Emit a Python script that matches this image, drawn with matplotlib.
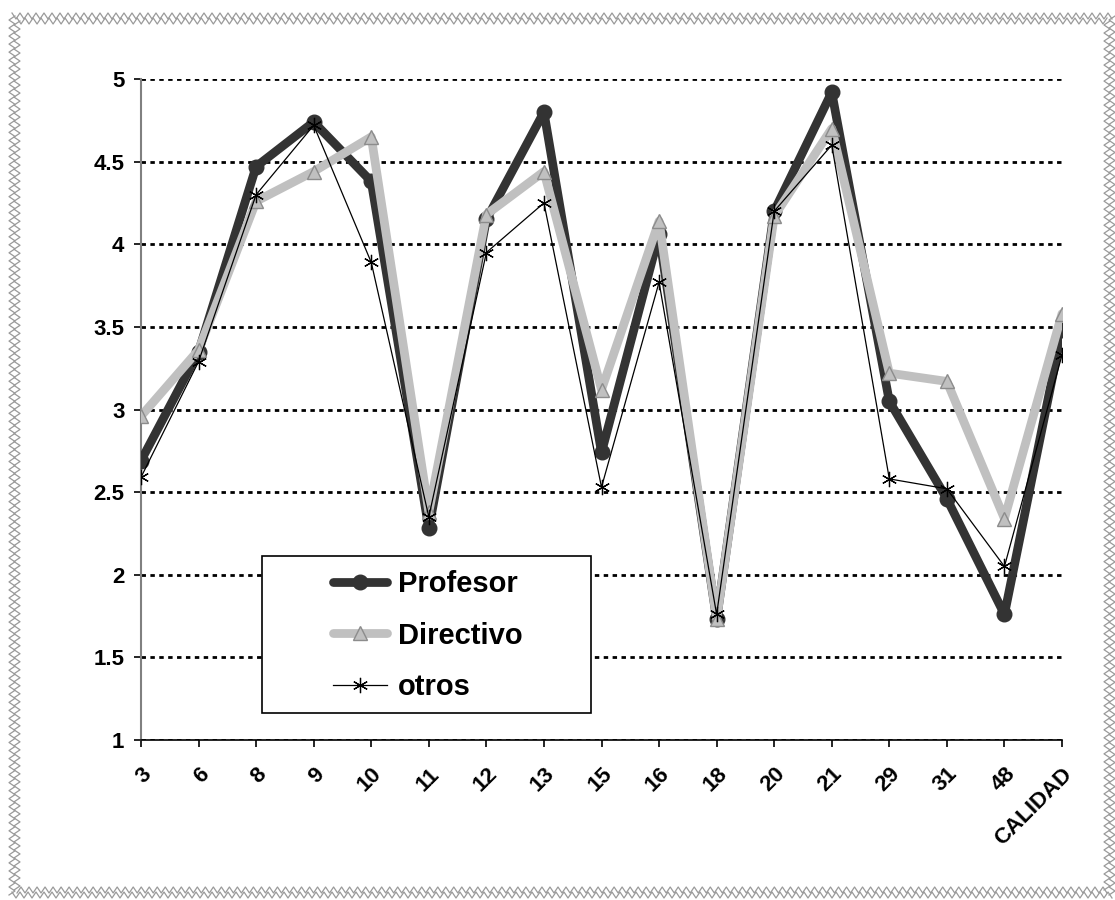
import numpy as np
import matplotlib
matplotlib.use("Agg")
import matplotlib.pyplot as plt
from matplotlib.lines import Line2D
from matplotlib.patches import Rectangle
from matplotlib.ticker import FuncFormatter

plt.rcParams['font.family'] = ['Liberation Sans', 'DejaVu Sans']
plt.rcParams['font.weight'] = 'bold'

categories = ["3", "6", "8", "9", "10", "11", "12", "13", "15", "16",
              "18", "20", "21", "29", "31", "48", "CALIDAD"]
profesor = [2.69, 3.35, 4.47, 4.74, 4.38, 2.28, 4.15, 4.80, 2.74, 4.06,
            1.73, 4.20, 4.92, 3.05, 2.46, 1.76, 3.48]
directivo = [2.96, 3.36, 4.26, 4.44, 4.65, 2.38, 4.18, 4.44, 3.12, 4.14,
             1.73, 4.17, 4.70, 3.22, 3.17, 2.34, 3.58]
otros = [2.59, 3.29, 4.30, 4.72, 3.89, 2.35, 3.95, 4.25, 2.53, 3.77,
         1.76, 4.20, 4.60, 2.58, 2.52, 2.05, 3.33]
y_ticks = [1, 1.5, 2, 2.5, 3, 3.5, 4, 4.5, 5]

W, H = 1115, 900
fig = plt.figure(figsize=(W / 100, H / 100), dpi=100)
fig.patch.set_facecolor('white')

# decorative wavy frame around the whole figure
def zigzag(x0, y0, x1, y1, period=8.0, amp=6.0):
    length = np.hypot(x1 - x0, y1 - y0)
    n = int(length / (period / 2))
    t = np.linspace(0, 1, n + 1)
    xs = x0 + (x1 - x0) * t
    ys = y0 + (y1 - y0) * t
    nx, ny = -(y1 - y0) / length, (x1 - x0) / length
    off = np.where(np.arange(n + 1) % 2 == 0, -amp / 2, amp / 2)
    return xs + nx * off, ys + ny * off

for shift in (0.0, 5.0):
    edges = [(12 + shift, 16 + shift, 1112 - shift, 16 + shift),
             (1112 - shift, 16 + shift, 1112 - shift, 895 - shift),
             (1112 - shift, 895 - shift, 12 + shift, 895 - shift),
             (12 + shift, 895 - shift, 12 + shift, 16 + shift)]
    for e in edges:
        zx, zy = zigzag(*e)
        fig.add_artist(Line2D(zx / W, 1 - zy / H, color='#9a9a9a', lw=0.9,
                              transform=fig.transFigure))

ax = fig.add_axes([141 / W, 1 - 740 / H, (1062 - 141) / W, (740 - 79) / H])
x = np.arange(len(categories))

ax.plot(x, profesor, color='#333333', lw=6.3, marker='o', ms=10.5,
        mfc='#333333', mec='#333333', label='Profesor', zorder=3,
        solid_joinstyle='round', solid_capstyle='round')
ax.plot(x, directivo, color='#c0c0c0', lw=6.3, marker='^', ms=10,
        mfc='#c0c0c0', mec='#8c8c8c', mew=1.0, label='Directivo', zorder=3.1,
        solid_joinstyle='round', solid_capstyle='round')
ax.plot(x, otros, color='black', lw=0.9, marker=(6, 2, 0), ms=11,
        mec='black', mew=0.9, label='otros', zorder=3.2)

ax.set_xlim(0, len(categories) - 1)
ax.set_ylim(1, 5)
ax.set_yticks(y_ticks)
ax.yaxis.set_major_formatter(FuncFormatter(lambda v, p: f"{v:g}"))
ax.set_xticks(x)
ax.set_xticklabels(categories, rotation=45, ha='right', va='top',
                   rotation_mode='anchor')

ax.grid(axis='y', color='black', lw=2.0, linestyle=(0, (1.6, 1.6)), zorder=1)
ax.set_axisbelow(True)

for s in ('top', 'right'):
    ax.spines[s].set_visible(False)
ax.spines['left'].set_color('#808080')
ax.spines['left'].set_linewidth(1.5)
ax.spines['bottom'].set_color('black')
ax.spines['bottom'].set_linewidth(1.2)

ax.tick_params(axis='y', length=5, width=1.2, color='black', pad=7,
               labelsize=16)
ax.tick_params(axis='x', length=5, width=1.2, color='black', pad=12,
               labelsize=16)
for lab in ax.get_xticklabels() + ax.get_yticklabels():
    lab.set_fontweight('bold')

# legend box
ax.add_patch(Rectangle((0.1314, 0.0408), 0.3572, 0.2376, transform=ax.transAxes,
                       facecolor='white', edgecolor='black', lw=1.2, zorder=5))
leg = ax.legend(loc='center left', bbox_to_anchor=(0.209, 0.158),
                frameon=False, borderpad=0, borderaxespad=0,
                handlelength=1.85, handletextpad=0.35, labelspacing=0.8,
                prop={'size': 21, 'weight': 'bold'})
leg.set_zorder(6)

fig.savefig('out.png', dpi=100, facecolor='white')
